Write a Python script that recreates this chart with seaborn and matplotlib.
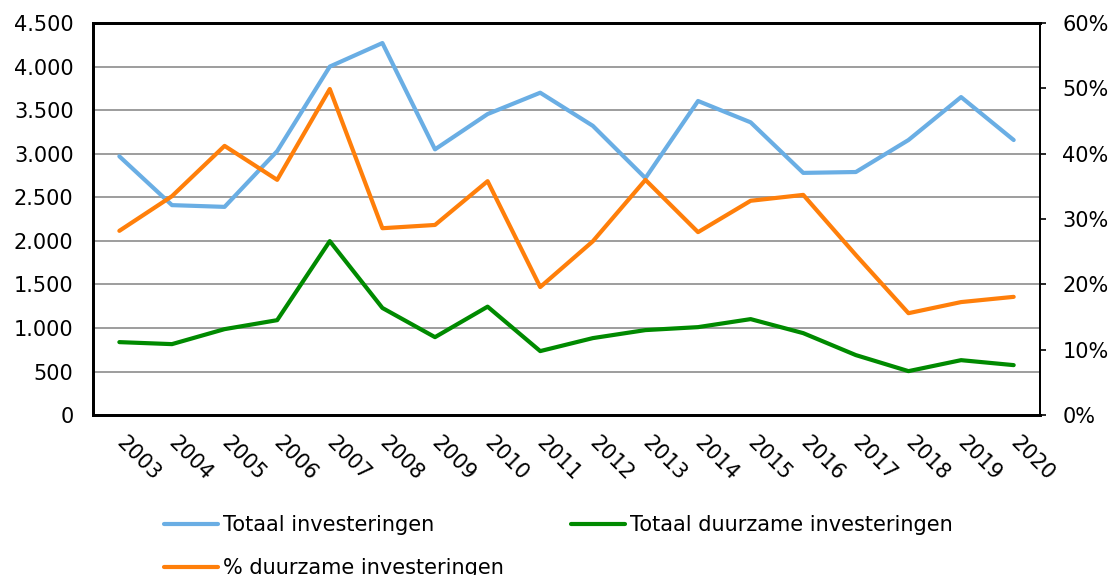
import matplotlib
matplotlib.use("Agg")
import matplotlib.pyplot as plt
import seaborn as sns
import pandas as pd
from matplotlib.ticker import FuncFormatter, MultipleLocator

years = [str(y) for y in range(2003, 2021)]
totaal = [2970, 2410, 2390, 3030, 4000, 4270, 3050, 3455, 3700, 3320, 2720, 3605, 3360, 2780, 2790, 3157, 3650, 3157]
duurzaam = [838, 815, 987, 1090, 1997, 1230, 895, 1245, 735, 884, 976, 1010, 1102, 941, 689, 505, 631, 574]
pct = [28.2, 33.5, 41.2, 36.0, 49.9, 28.6, 29.1, 35.8, 19.6, 26.6, 36.0, 28.0, 32.8, 33.7, 24.5, 15.6, 17.3, 18.1]

df = pd.DataFrame({"jaar": years, "totaal": totaal, "duurzaam": duurzaam, "pct": pct})

sns.set_style("white")
plt.rcParams['font.family'] = ['DejaVu Sans']
plt.rcParams['text.color'] = 'black'

FS = 15

fig = plt.figure(figsize=(11.13, 5.75), dpi=100)
ax = fig.add_axes([0.0836, 0.278, 0.8508, 0.682])
ax2 = ax.twinx()

c_blue = "#6AAEE4"
c_green = "#008A00"
c_orange = "#FF7F0A"

sns.lineplot(data=df, x="jaar", y="totaal", ax=ax, color=c_blue, lw=3, label="Totaal investeringen", legend=False, sort=False)
sns.lineplot(data=df, x="jaar", y="duurzaam", ax=ax, color=c_green, lw=3, label="Totaal duurzame investeringen", legend=False, sort=False)
sns.lineplot(data=df, x="jaar", y="pct", ax=ax2, color=c_orange, lw=3, label="% duurzame investeringen", legend=False, sort=False)

ax.set_xlim(-0.5, len(years) - 0.5)
ax.set_ylim(0, 4500)
ax2.set_ylim(0, 60)
ax.yaxis.set_major_locator(MultipleLocator(500))
ax2.yaxis.set_major_locator(MultipleLocator(10))
ax.yaxis.set_major_formatter(FuncFormatter(lambda v, p: f"{int(v):,}".replace(",", ".")))
ax2.yaxis.set_major_formatter(FuncFormatter(lambda v, p: f"{int(v)}%"))

ax.grid(axis="y", color="#8C8C8C", lw=1.2)
ax.set_axisbelow(True)
ax.set_xlabel("")
ax.set_ylabel("")
ax2.set_ylabel("")

ax.tick_params(axis="y", labelsize=FS, length=0, colors="black", pad=14)
ax.tick_params(axis="x", labelsize=FS, length=0, colors="black", pad=18)
ax2.tick_params(axis="y", labelsize=FS, length=4, width=1.2, direction="out", colors="black", pad=12)
for lab in ax.get_xticklabels():
    lab.set_rotation(-45)
    lab.set_ha("left")
    lab.set_va("center")
    lab.set_rotation_mode("anchor")

for a in (ax, ax2):
    for s in ("left", "bottom", "top"):
        a.spines[s].set_color("black")
        a.spines[s].set_linewidth(2)
    a.spines["right"].set_color("black")
    a.spines["right"].set_linewidth(1.3)

h1, l1 = ax.get_legend_handles_labels()
h2, l2 = ax2.get_legend_handles_labels()
handles = [h1[0], h2[0], h1[1]]
labels = [l1[0], l2[0], l1[1]]
fig.legend(handles, labels, ncol=2, frameon=False, fontsize=FS,
           loc="upper left", bbox_to_anchor=(0.147, 0.104), handlelength=2.6,
           handletextpad=0.25, columnspacing=3.2, labelspacing=1.1, borderaxespad=0,
           borderpad=0)

fig.savefig("out.png", dpi=100)
